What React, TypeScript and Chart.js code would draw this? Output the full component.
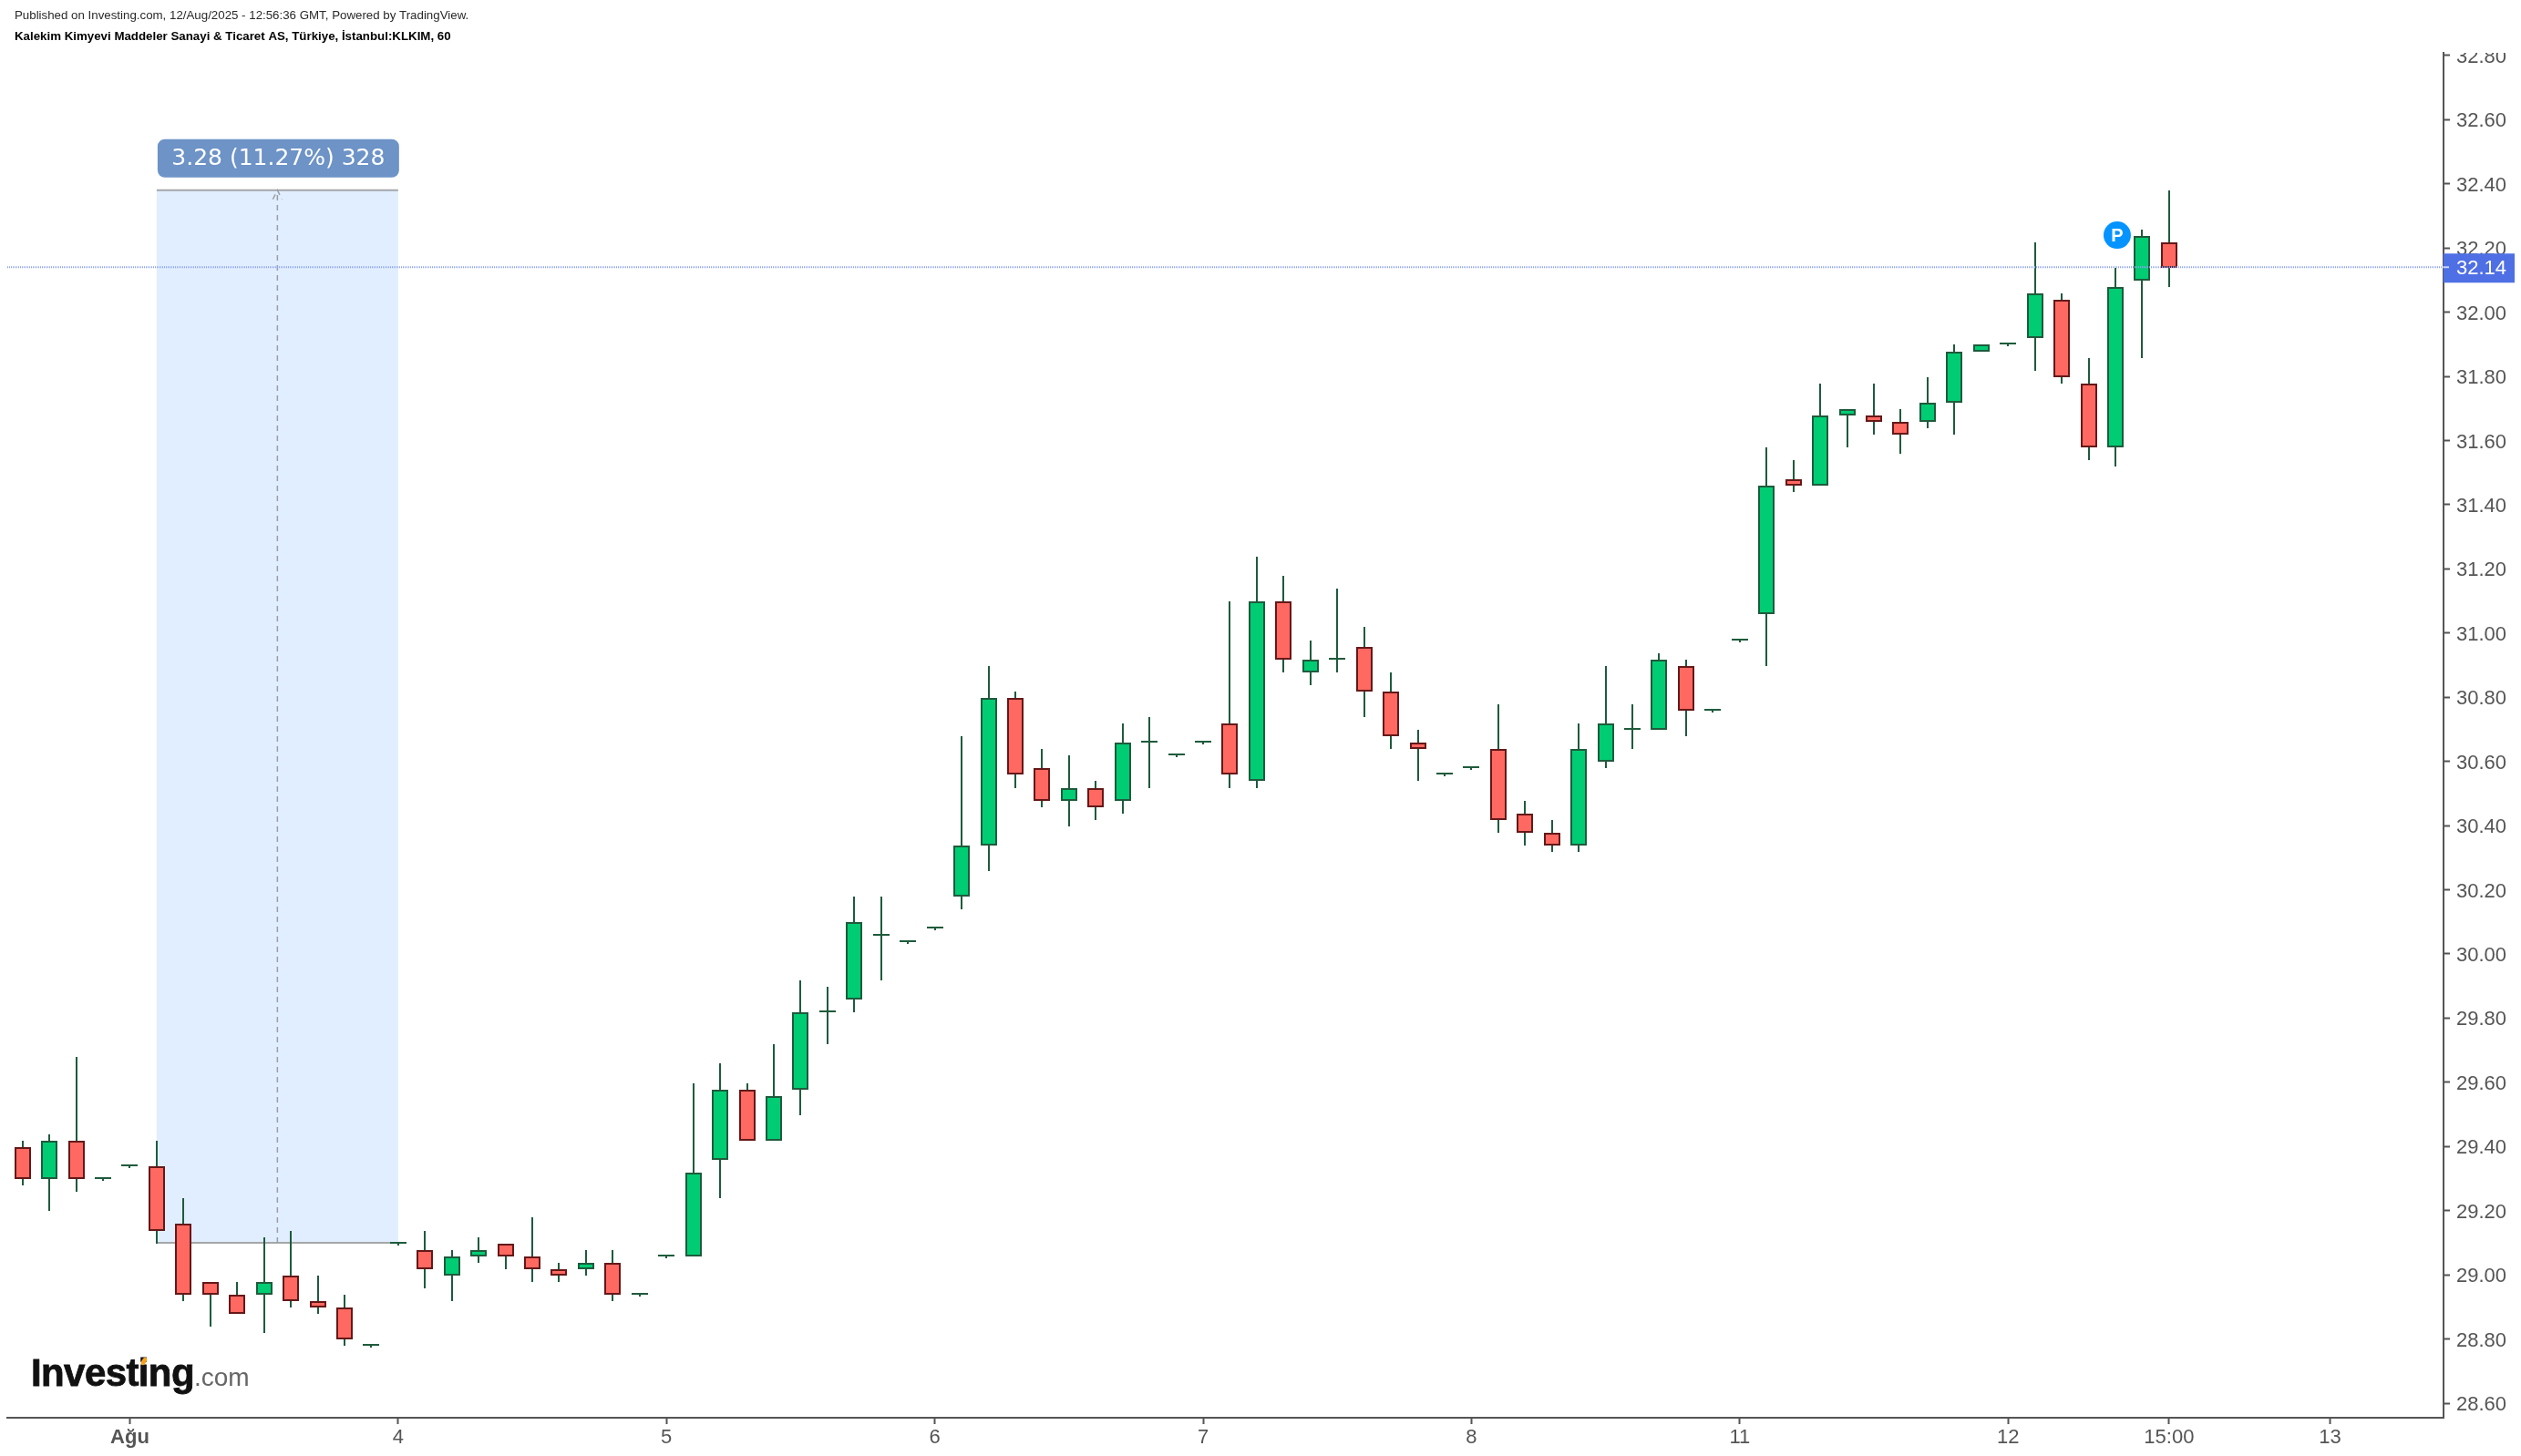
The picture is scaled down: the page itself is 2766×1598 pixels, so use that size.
import React, { useEffect, useRef } from "react";
import { Chart, registerables } from "chart.js";

Chart.register(...registerables);

const opens = [29.40,29.30,29.42,29.30,29.34,29.34,29.16,28.98,28.94,28.94,29.00,28.92,28.90,28.78,29.10,29.08,29.00,29.06,29.10,29.06,29.02,29.02,29.04,28.94,29.06,29.06,29.36,29.58,29.42,29.58,29.82,29.86,30.06,30.04,30.08,30.18,30.34,30.80,30.58,30.48,30.52,30.48,30.66,30.62,30.66,30.72,30.54,31.10,30.88,30.92,30.96,30.82,30.66,30.56,30.58,30.64,30.44,30.38,30.34,30.60,30.70,30.70,30.90,30.76,30.98,31.06,31.48,31.46,31.68,31.68,31.66,31.66,31.72,31.88,31.90,31.92,32.04,31.78,31.58,32.10,32.22];
const highs = [29.42,29.44,29.68,29.30,29.34,29.42,29.24,28.98,28.98,29.12,29.14,29.00,28.94,28.78,29.10,29.14,29.08,29.12,29.10,29.18,29.04,29.08,29.08,28.94,29.06,29.60,29.66,29.60,29.72,29.92,29.90,30.18,30.18,30.04,30.08,30.68,30.90,30.82,30.64,30.62,30.54,30.72,30.74,30.62,30.66,31.10,31.24,31.18,30.98,31.14,31.02,30.88,30.70,30.56,30.58,30.78,30.48,30.42,30.72,30.90,30.78,30.94,30.92,30.76,30.98,31.58,31.54,31.78,31.70,31.78,31.70,31.80,31.90,31.90,31.90,32.22,32.06,31.86,32.14,32.26,32.38];
const lows = [29.28,29.20,29.26,29.30,29.34,29.10,28.92,28.84,28.88,28.82,28.90,28.88,28.78,28.78,29.10,28.96,28.92,29.04,29.02,28.98,28.98,29.00,28.92,28.94,29.06,29.06,29.24,29.42,29.42,29.50,29.72,29.82,29.92,30.04,30.08,30.14,30.26,30.52,30.46,30.40,30.42,30.44,30.52,30.62,30.66,30.52,30.52,30.88,30.84,30.88,30.74,30.64,30.54,30.56,30.58,30.38,30.34,30.32,30.32,30.58,30.64,30.70,30.68,30.76,30.98,30.90,31.44,31.46,31.58,31.62,31.56,31.64,31.62,31.88,31.90,31.82,31.78,31.54,31.52,31.86,32.08];
const closes = [29.30,29.42,29.30,29.30,29.34,29.14,28.94,28.94,28.88,28.98,28.92,28.90,28.80,28.78,29.10,29.02,29.06,29.08,29.06,29.02,29.00,29.04,28.94,28.94,29.06,29.32,29.58,29.42,29.56,29.82,29.82,30.10,30.06,30.04,30.08,30.34,30.80,30.56,30.48,30.52,30.46,30.66,30.66,30.62,30.66,30.56,31.10,30.92,30.92,30.92,30.82,30.68,30.64,30.56,30.58,30.42,30.38,30.34,30.64,30.72,30.70,30.92,30.76,30.76,30.98,31.46,31.46,31.68,31.70,31.66,31.62,31.72,31.88,31.90,31.90,32.06,31.80,31.58,32.08,32.24,32.14];

const yTicks = [28.6,28.8,29.0,29.2,29.4,29.6,29.8,30.0,30.2,30.4,30.6,30.8,31.0,31.2,31.4,31.6,31.8,32.0,32.2,32.4,32.6,32.8];
const xTickIndex = [4,14,24,34,44,54,64,74,80,86];
const xTickLabels = ["Ağu","4","5","6","7","8","11","12","15:00","13"];

const lastPrice = 32.14;
const measureStartIndex = 5;
const measureEndIndex = 14;
const measureLow = 29.10;
const measureHigh = 32.38;
const measureLabel = "3.28 (11.27%) 328";
const pinIndex = 78;
const pinPrice = 32.24;
const headerLine1 = "Published on Investing.com, 12/Aug/2025 - 12:56:36 GMT, Powered by TradingView.";
const headerLine2 = "Kalekim Kimyevi Maddeler Sanayi & Ticaret AS, Türkiye, İstanbul:KLKIM, 60";

const WIDTH = 2766;
const HEIGHT = 1598;
const GREEN = "#00CC73";
const GREEN_EDGE = "#1E5B3C";
const RED = "#FF6961";
const RED_EDGE = "#651818";
const AXIS = "#555555";
const FONT = '"Liberation Sans", Arial, sans-serif';

const overlay = {
  id: "overlay",
  beforeDatasetsDraw(chart: any) {
    // snap the bars to whole pixels so wicks and borders stay crisp
    chart.data.datasets.forEach((_: any, di: number) => {
      chart.getDatasetMeta(di).data.forEach((el: any) => {
        el.x = Math.round(el.x);
        el.y = Math.round(el.y + 0.7);
        el.base = Math.round(el.base + 0.7);
        if (el.y === el.base) el.base = el.y + 2;
      });
    });
    const { ctx, scales: { x, y } } = chart;
    const x0 = x.getPixelForValue(measureStartIndex);
    const x1 = x.getPixelForValue(measureEndIndex);
    const yTop = y.getPixelForValue(measureHigh);
    const yBot = y.getPixelForValue(measureLow);
    ctx.save();
    ctx.fillStyle = "#E1EEFF";
    ctx.fillRect(x0, yTop, x1 - x0, yBot - yTop);
    ctx.strokeStyle = "#A4A6A9";
    ctx.lineWidth = 2;
    ctx.beginPath();
    ctx.moveTo(x0, yTop); ctx.lineTo(x1, yTop);
    ctx.moveTo(x0, yBot); ctx.lineTo(x1, yBot);
    ctx.stroke();
    const xm = (x0 + x1) / 2;
    ctx.strokeStyle = "#9A9EA5";
    ctx.lineWidth = 1.5;
    ctx.setLineDash([6, 5]);
    ctx.beginPath();
    ctx.moveTo(xm, yBot); ctx.lineTo(xm, yTop);
    ctx.moveTo(xm - 5, yTop + 10); ctx.lineTo(xm, yTop);
    ctx.lineTo(xm + 5, yTop + 10);
    ctx.stroke();
    ctx.restore();
  },
  afterDatasetsDraw(chart: any) {
    const { ctx, chartArea, scales: { x, y } } = chart;
    const py = y.getPixelForValue(lastPrice);
    ctx.save();
    ctx.strokeStyle = "#8FA5F2";
    ctx.lineWidth = 2;
    ctx.setLineDash([1, 1]);
    ctx.beginPath();
    ctx.moveTo(chartArea.left, py);
    ctx.lineTo(chartArea.right, py);
    ctx.stroke();
    ctx.restore();

    ctx.save();
    const lx0 = x.getPixelForValue(measureStartIndex);
    const lx1 = x.getPixelForValue(measureEndIndex);
    const lyTop = y.getPixelForValue(measureHigh);
    ctx.fillStyle = "#6D93C7";
    ctx.beginPath();
    ctx.roundRect(lx0 + 1, lyTop - 56, lx1 - lx0, 42, 8);
    ctx.fill();
    ctx.fillStyle = "#FFFFFF";
    ctx.font = '25px "DejaVu Sans", sans-serif';
    ctx.textAlign = "center";
    ctx.textBaseline = "middle";
    ctx.fillText(measureLabel, (lx0 + lx1) / 2 + 1, lyTop - 34);

    const px = x.getPixelForValue(pinIndex) + 2;
    const pinY = y.getPixelForValue(pinPrice);
    ctx.fillStyle = "#0594FF";
    ctx.beginPath();
    ctx.arc(px, pinY, 15, 0, Math.PI * 2);
    ctx.fill();
    ctx.fillStyle = "#FFFFFF";
    ctx.font = `bold 20px ${FONT}`;
    ctx.fillText("P", px, pinY + 1);
    ctx.restore();
  },
  afterDraw(chart: any) {
    const { ctx, chartArea, scales: { y } } = chart;
    ctx.save();
    // axis labels are cut off at the top edge of the price scale
    ctx.fillStyle = "#FFFFFF";
    ctx.fillRect(chartArea.right + 1, 0, WIDTH - chartArea.right, chartArea.top);

    const py = y.getPixelForValue(lastPrice);
    ctx.fillStyle = "#4F6FE5";
    ctx.fillRect(chartArea.right, py - 15, 78, 32);
    ctx.fillStyle = "#C9D6FA";
    ctx.fillRect(chartArea.right, py - 1, 6, 2);
    ctx.fillStyle = "#FFFFFF";
    ctx.font = `22px ${FONT}`;
    ctx.textAlign = "left";
    ctx.textBaseline = "middle";
    ctx.fillText(String(lastPrice.toFixed(2)), chartArea.right + 14, py + 2);

    ctx.fillStyle = "#2A2A2A";
    ctx.textBaseline = "alphabetic";
    ctx.font = `13.3px ${FONT}`;
    ctx.fillText(headerLine1, 16, 21);
    ctx.fillStyle = "#000000";
    ctx.font = `bold 13.3px ${FONT}`;
    ctx.fillText(headerLine2, 16, 44);

    ctx.fillStyle = "#111111";
    ctx.strokeStyle = "#111111";
    ctx.lineWidth = 0.8;
    ctx.font = `bold 42px ${FONT}`;
    (ctx as any).letterSpacing = "-0.6px";
    ctx.fillText("Investing", 34, 1521);
    ctx.strokeText("Investing", 34, 1521);
    const w = ctx.measureText("Investing").width;
    ctx.fillStyle = "#666666";
    ctx.font = `28px ${FONT}`;
    (ctx as any).letterSpacing = "0px";
    ctx.fillText(".com", 34 + w, 1521);
    ctx.fillStyle = "#F7A21B";
    ctx.beginPath();
    ctx.ellipse(158, 1494, 2.5, 4.5, 0.5, 0, Math.PI * 2);
    ctx.fill();
    ctx.restore();
  },
};

export default function App() {
  const ref = useRef<HTMLCanvasElement>(null);
  useEffect(() => {
    const idx = opens.map((_, i) => i);
    const chart = new Chart(ref.current as HTMLCanvasElement, {
      type: "bar",
      data: {
        datasets: [
          {
            label: "wick",
            data: idx.map((i) => ({ x: i, y: [lows[i], highs[i]] })),
            backgroundColor: GREEN_EDGE,
            borderWidth: 0,
            barThickness: 2,
            grouped: false,
            inflateAmount: 0,
            order: 2,
          },
          {
            label: "body",
            data: idx.map((i) => ({ x: i, y: [opens[i], closes[i]] })),
            backgroundColor: idx.map((i) =>
              closes[i] === opens[i] ? GREEN_EDGE : closes[i] > opens[i] ? GREEN : RED
            ),
            borderColor: idx.map((i) => (closes[i] >= opens[i] ? GREEN_EDGE : RED_EDGE)),
            borderWidth: 2,
            borderSkipped: false,
            barThickness: 18,
            minBarLength: 2,
            grouped: false,
            inflateAmount: 0,
            order: 1,
          },
        ],
      } as any,
      options: {
        responsive: false,
        animation: false,
        devicePixelRatio: 1,
        layout: { padding: { left: 8, top: 58, right: 0, bottom: 0 } },
        plugins: { legend: { display: false }, tooltip: { enabled: false } },
        events: [],
        scales: {
          x: {
            type: "linear",
            offset: false,
            bounds: "data",
            min: -0.567,
            max: 90.23,
            grid: { display: true, drawOnChartArea: false, drawTicks: true, tickLength: 7, tickColor: AXIS, tickWidth: 2, offset: false },
            border: { color: AXIS, width: 2 },
            afterFit(s: any) { s.height = 42; },
            afterBuildTicks(s: any) { s.ticks = xTickIndex.map((value) => ({ value })); },
            ticks: {
              autoSkip: false,
              maxRotation: 0,
              padding: 2,
              color: AXIS,
              font: (c: any) => ({ family: FONT, size: 22, weight: c.index === 0 ? "bold" : "normal" }),
              callback: (v: any) => xTickLabels[xTickIndex.indexOf(Number(v))],
            },
          },
          y: {
            type: "linear",
            position: "right",
            bounds: "data",
            min: 28.5546,
            max: 32.808,
            grid: { display: true, drawOnChartArea: false, drawTicks: true, tickLength: 7, tickColor: AXIS, tickWidth: 2 },
            border: { color: AXIS, width: 2 },
            afterFit(s: any) { s.width = 85; },
            afterBuildTicks(s: any) { s.ticks = yTicks.map((value) => ({ value })); },
            ticks: {
              autoSkip: false,
              padding: 7,
              labelOffset: 2,
              color: AXIS,
              font: { family: FONT, size: 22 },
              callback: (v: any) => Number(v).toFixed(2),
            },
          },
        },
      } as any,
      plugins: [overlay],
    });
    return () => chart.destroy();
  }, []);
  return (
    <canvas
      ref={ref}
      width={WIDTH}
      height={HEIGHT}
      style={{ position: "absolute", left: 0, top: 0, display: "block", width: WIDTH, height: HEIGHT }}
    />
  );
}
